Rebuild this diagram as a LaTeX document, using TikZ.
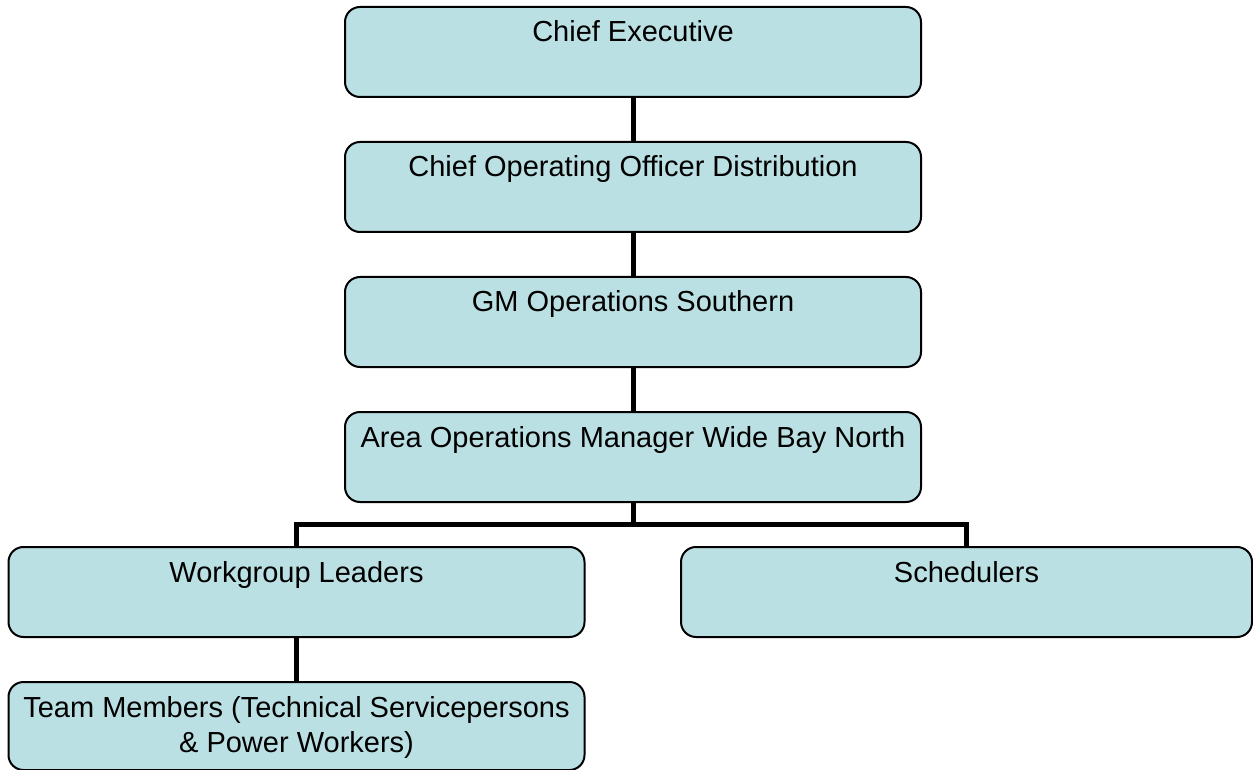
\documentclass[tikz,border=0pt]{standalone}
\usepackage{fontspec}
\setmainfont{Liberation Sans}
\usepackage{tikz}
\usetikzlibrary{positioning}
\definecolor{boxblue}{RGB}{187,224,227}

\begin{document}
\begin{tikzpicture}[
			box/.style={draw, line width=1pt, rounded corners=7.5pt, fill=boxblue,
				minimum width=288pt, minimum height=45pt, inner sep=0pt, outer sep=0pt,
				align=center, text height=17.5pt, text depth=27.5pt,
				font=\fontsize{14.5}{17.5}\selectfont},
			conn/.style={draw, line width=2.5pt}]
			\useasboundingbox (0,0) rectangle (626.5pt,-385pt);
			\node[box, anchor=north] (ceo) at (316.5pt,-3.5pt) {Chief Executive};
			\node[box, below=22.5pt of ceo] (coo) {Chief Operating Officer Distribution};
			\node[box, below=22.5pt of coo] (gm) {GM Operations Southern};
			\node[box, below=22.5pt of gm] (aom) {Area Operations Manager Wide Bay North};
			\node[box, below=22.5pt of aom, xshift=-168.25pt] (wgl) {Workgroup Leaders};
			\node[box, below=22.5pt of aom, xshift=166.75pt, minimum width=285.5pt] (sch) {Schedulers};
			\node[box, below=22.5pt of wgl, text height=35pt, text depth=9pt, minimum height=44pt] (team)
				{Team Members (Technical Servicepersons\\ \& Power Workers)};
			% connectors
			\draw[conn] (ceo) -- (coo);
			\draw[conn] (coo) -- (gm);
			\draw[conn] (gm) -- (aom);
			\draw[conn] (aom.south) -- ++(0,-11pt) -| (wgl.north);
			\draw[conn] (aom.south) -- ++(0,-11pt) -| (sch.north);
			\draw[conn] (wgl) -- (team);
		\end{tikzpicture}
\end{document}
